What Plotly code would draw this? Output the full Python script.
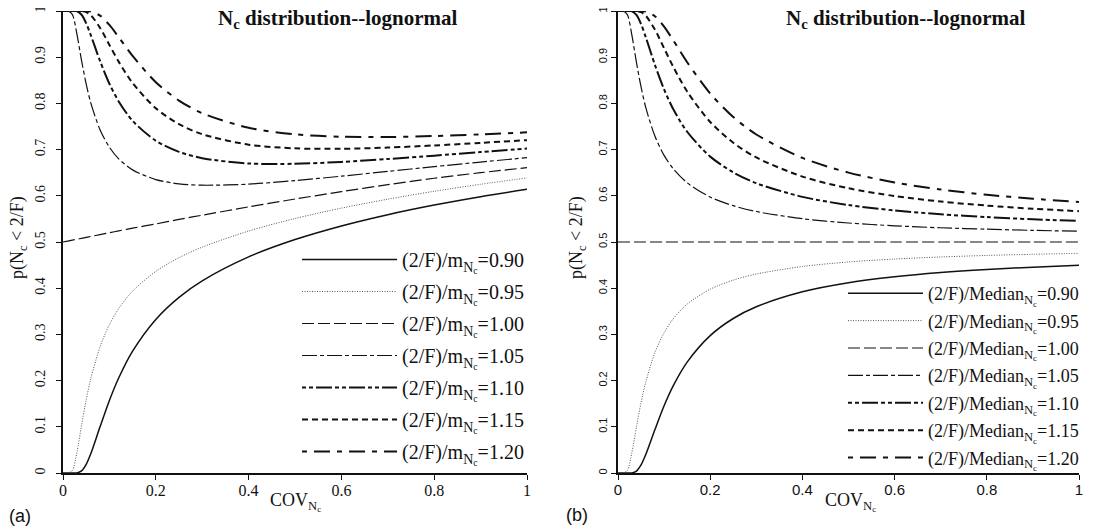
import plotly.graph_objects as go

# ---------------- data ----------------
cov = [0, 0.01, 0.02, 0.03, 0.04, 0.05, 0.06, 0.08, 0.10, 0.12, 0.15,
       0.2, 0.25, 0.3, 0.4, 0.5, 0.6, 0.7, 0.8, 0.9, 1.0]

ratio_labels = ["0.90", "0.95", "1.00", "1.05", "1.10", "1.15", "1.20"]

# panel (a): ratio to mean
pa_090 = [0, 0, 0, 0.0002, 0.0045, 0.0186, 0.0420, 0.1004, 0.1571, 0.2057, 0.2638,
          0.3325, 0.3803, 0.4160, 0.4678, 0.5053, 0.5348, 0.5592, 0.5800, 0.5981, 0.6140]
pa_095 = [0, 0, 0.0053, 0.0450, 0.1033, 0.1583, 0.2045, 0.2735, 0.3212, 0.3560, 0.3939,
          0.4364, 0.4661, 0.4889, 0.5237, 0.5508, 0.5733, 0.5927, 0.6098, 0.6250, 0.6386]
pa_100 = [0.5, 0.502, 0.504, 0.506, 0.508, 0.510, 0.512, 0.516, 0.520, 0.524, 0.530,
          0.539, 0.549, 0.558, 0.576, 0.593, 0.609, 0.624, 0.638, 0.650, 0.661]
pa_105 = [1, 1, 0.9928, 0.9497, 0.8926, 0.8417, 0.8006, 0.7424, 0.7051, 0.6800, 0.6561,
          0.6351, 0.6260, 0.6229, 0.6252, 0.6329, 0.6425, 0.6528, 0.6632, 0.6731, 0.6826]
pa_110 = [1, 1, 1, 0.9993, 0.9919, 0.9733, 0.9474, 0.8913, 0.8426, 0.8043, 0.7622,
          0.7191, 0.6950, 0.6814, 0.6700, 0.6693, 0.6734, 0.6796, 0.6869, 0.6946, 0.7022]
pa_115 = [1, 1, 1, 1, 0.9998, 0.9976, 0.9909, 0.9633, 0.9266, 0.8904, 0.8441,
          0.7895, 0.7551, 0.7333, 0.7107, 0.7027, 0.7017, 0.7044, 0.7090, 0.7145, 0.7205]
pa_120 = [1, 1, 1, 1, 1, 0.9999, 0.9989, 0.9899, 0.9698, 0.9435, 0.9027,
          0.8460, 0.8061, 0.7787, 0.7472, 0.7331, 0.7278, 0.7272, 0.7294, 0.7330, 0.7374]

# panel (b): ratio to median
pb_090 = [0, 0, 0, 0.0002, 0.0042, 0.0175, 0.0394, 0.0936, 0.1455, 0.1891, 0.2400,
          0.2974, 0.3344, 0.3598, 0.3922, 0.4118, 0.4247, 0.4338, 0.4405, 0.4456, 0.4497]
pb_095 = [0, 0, 0.0052, 0.0436, 0.0998, 0.1524, 0.1961, 0.2604, 0.3035, 0.3340, 0.3655,
          0.3978, 0.4175, 0.4307, 0.4470, 0.4568, 0.4631, 0.4676, 0.4709, 0.4734, 0.4754]
pb_100 = [0.5, 0.5, 0.5, 0.5, 0.5, 0.5, 0.5, 0.5, 0.5, 0.5, 0.5,
          0.5, 0.5, 0.5, 0.5, 0.5, 0.5, 0.5, 0.5, 0.5, 0.5]
pb_105 = [1, 1, 0.9926, 0.9481, 0.8889, 0.8356, 0.7921, 0.7294, 0.6876, 0.6584, 0.6282,
          0.5973, 0.5786, 0.5660, 0.5504, 0.5411, 0.5351, 0.5308, 0.5277, 0.5252, 0.5234]
pb_110 = [1, 1, 1, 0.9993, 0.9914, 0.9718, 0.9441, 0.8836, 0.8303, 0.7873, 0.7386,
          0.6848, 0.6507, 0.6273, 0.5977, 0.5800, 0.5682, 0.5600, 0.5539, 0.5492, 0.5456]
pb_115 = [1, 1, 1, 1, 0.9998, 0.9974, 0.9901, 0.9599, 0.9194, 0.8788, 0.8256,
          0.7598, 0.7149, 0.6830, 0.6416, 0.6163, 0.5995, 0.5876, 0.5788, 0.5720, 0.5667]
pb_120 = [1, 1, 1, 1, 1, 0.9999, 0.9988, 0.9888, 0.9662, 0.9364, 0.8892,
          0.8214, 0.7705, 0.7327, 0.6820, 0.6502, 0.6288, 0.6136, 0.6023, 0.5936, 0.5867]

x_ticks = [0, 0.2, 0.4, 0.6, 0.8, 1]
x_ticklabels = ["0", "0.2", "0.4", "0.6", "0.8", "1"]
y_ticks = [0, 0.1, 0.2, 0.3, 0.4, 0.5, 0.6, 0.7, 0.8, 0.9, 1]
y_ticklabels = ["0", "0.1", "0.2", "0.3", "0.4", "0.5", "0.6", "0.7", "0.8", "0.9", "1"]

series_a = [pa_090, pa_095, pa_100, pa_105, pa_110, pa_115, pa_120]
series_b = [pb_090, pb_095, pb_100, pb_105, pb_110, pb_115, pb_120]

# ---------------- styles ----------------
styles = [
    dict(color="#111", width=1.5, dash="solid"),
    dict(color="#555", width=1.0, dash="1px,1.5px"),
    dict(color="#111", width=1.2, dash="12px,4px"),
    dict(color="#111", width=1.2, dash="15px,3px,4px,3px"),
    dict(color="#111", width=2.0, dash="4px,3px,4px,3px,16px,3px"),
    dict(color="#111", width=2.0, dash="6px,4px"),
    dict(color="#111", width=2.0, dash="5px,7px,16px,7px"),
]

SERIF = "Liberation Serif, Times New Roman, DejaVu Serif, serif"
SANS = "Liberation Sans, Arial, sans-serif"
OFF = 8                      # page body margin
W, H = 1099 - OFF, 529 - OFF

def px(x):
    return (x - OFF) / W

def py(y):
    return 1 - (y - OFF) / H

fig = go.Figure()

for i, (lab, ys) in enumerate(zip(ratio_labels, series_a)):
    fig.add_trace(go.Scatter(
        x=cov, y=ys, mode="lines", line=dict(shape="spline", smoothing=0.8, **styles[i]),
        name="(2/F)/m<sub>N<sub>c</sub></sub>=" + lab,
        legend="legend", legendgroup="a" + lab, xaxis="x", yaxis="y",
    ))

for i, (lab, ys) in enumerate(zip(ratio_labels, series_b)):
    fig.add_trace(go.Scatter(
        x=cov, y=ys, mode="lines", line=dict(shape="spline", smoothing=0.8, **styles[i]),
        name="(2/F)/Median<sub>N<sub>c</sub></sub>=" + lab,
        legend="legend2", legendgroup="b" + lab, xaxis="x2", yaxis="y2",
    ))

axis_common = dict(
    range=[0, 1], showgrid=False, zeroline=False, showline=True,
    linecolor="#111", linewidth=1.5, ticks="outside", ticklen=5,
    tickcolor="#111", tickwidth=1.2, automargin=False, ticklabeloverflow="allow",
)

fig.update_layout(
    width=W, height=H,
    margin=dict(l=0, r=0, t=0, b=0),
    paper_bgcolor="white", plot_bgcolor="white",
    xaxis=dict(domain=[px(63), px(527)], anchor="y", tickvals=x_ticks, ticktext=x_ticklabels,
               ticklabelstandoff=-3,
               tickfont=dict(family=SERIF, size=16, color="#111"), **axis_common),
    yaxis=dict(domain=[py(473), py(11)], anchor="x", tickvals=y_ticks, ticktext=y_ticklabels,
               tickangle=-90, ticklabelstandoff=6,
               tickfont=dict(family=SERIF, size=14, color="#111"), **axis_common),
    xaxis2=dict(domain=[px(618), px(1079)], anchor="y2", tickvals=x_ticks, ticktext=x_ticklabels,
                ticklabelstandoff=-3,
                tickfont=dict(family=SANS, size=15, color="#111"), **axis_common),
    yaxis2=dict(domain=[py(473), py(11)], anchor="x2", tickvals=y_ticks, ticktext=y_ticklabels,
                tickangle=-90, ticklabelstandoff=0,
                tickfont=dict(family=SANS, size=11, color="#111"), **axis_common),
    legend=dict(x=px(297), y=py(240), xanchor="left", yanchor="top", itemwidth=95,
                font=dict(family=SERIF, size=20, color="#111"), bgcolor="rgba(0,0,0,0)",
                traceorder="grouped", tracegroupgap=3, itemclick=False),
    legend2=dict(x=px(843), y=py(275), xanchor="left", yanchor="top", itemwidth=75,
                 font=dict(family=SERIF, size=18, color="#111"), bgcolor="rgba(0,0,0,0)",
                 traceorder="grouped", tracegroupgap=1, itemclick=False),
    showlegend=True,
)

ann = [
    dict(text="<b>N<sub>c</sub> distribution--lognormal</b>", x=px(337), y=py(19),
         font=dict(family=SERIF, size=21, color="#111")),
    dict(text="<b>N<sub>c</sub> distribution--lognormal</b>", x=px(905), y=py(19),
         font=dict(family=SERIF, size=21, color="#111")),
    dict(text="p(N<sub>c</sub> &lt; 2/F)", x=px(18), y=py(238), textangle=-90,
         font=dict(family=SERIF, size=18, color="#111")),
    dict(text="p(N<sub>c</sub> &lt; 2/F)", x=px(577), y=py(238), textangle=-90,
         font=dict(family=SERIF, size=18, color="#111")),
    dict(text="COV<sub>N<sub>c</sub></sub>", x=px(295), y=py(502),
         font=dict(family=SERIF, size=18, color="#111")),
    dict(text="COV<sub>N<sub>c</sub></sub>", x=px(850), y=py(502),
         font=dict(family=SERIF, size=18, color="#111")),
    dict(text="(a)", x=px(20), y=py(516), font=dict(family=SANS, size=18, color="#111")),
    dict(text="(b)", x=px(577), y=py(515), font=dict(family=SANS, size=18, color="#111")),
]
for a in ann:
    a.update(xref="paper", yref="paper", showarrow=False, xanchor="center", yanchor="middle")
fig.update_layout(annotations=ann)

fig.write_html("out.html")
